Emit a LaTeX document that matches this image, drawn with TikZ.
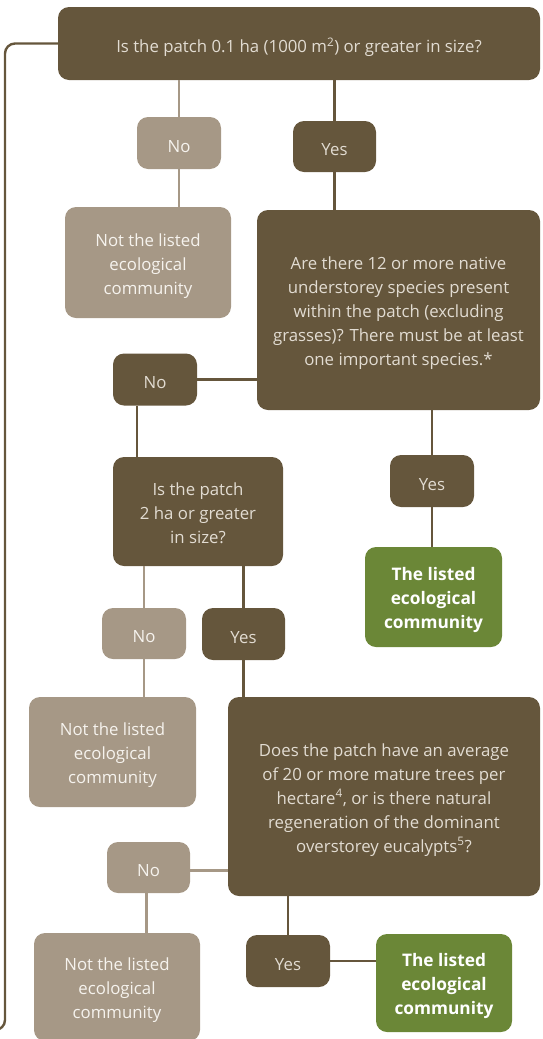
\documentclass[tikz,border=0pt]{standalone}
\usepackage{fontspec}
\setmainfont{Open Sans}
\definecolor{darkbrown}{RGB}{101,86,60}
\definecolor{taupe}{RGB}{166,152,134}
\definecolor{leafgreen}{RGB}{107,135,55}
\definecolor{darktext}{RGB}{226,220,210}
\definecolor{lighttext}{RGB}{246,243,238}
\begin{document}
\begin{tikzpicture}[x=1pt,y=-1pt,
  box/.style={rounded corners=11pt, inner sep=0pt, align=center,
    font=\fontsize{16.8}{24}\selectfont},
  oneline/.style={text height=18pt, text depth=0pt},
  threeline/.style={text height=67.5pt, text depth=4pt},
  fiveline/.style={text height=115.5pt, text depth=4pt},
  darkbox/.style={box, fill=darkbrown, text=darktext},
  lightbox/.style={box, fill=taupe, text=lighttext},
  greenbox/.style={box, fill=leafgreen, text=white, font=\fontsize{17.3}{24}\selectfont\bfseries},
  darkline/.style={draw=darkbrown, line width=2.4pt},
  lightline/.style={draw=taupe, line width=2.4pt}]
\useasboundingbox (0,0) rectangle (543,1039);
% nodes
\node[darkbox, oneline, minimum width=482pt, minimum height=73pt] (Q1) at (299,43.5) {Is the patch 0.1 ha (1000 m\textsuperscript{2}) or greater in size?};
\node[lightbox, oneline, minimum width=84pt, minimum height=52pt] (No1) at (179,143) {No};
\node[darkbox, oneline, minimum width=83pt, minimum height=51pt] (Yes1) at (334.5,146.5) {Yes};
\node[lightbox, threeline, minimum width=166pt, minimum height=111pt] (NL1) at (148,262.5) {Not the listed\\ecological\\community};
\node[darkbox, fiveline, minimum width=283pt, minimum height=200pt] (Q2) at (398.5,310) {Are there 12 or more native\\understorey species present\\within the patch (excluding\\grasses)? There must be at least\\one important species.*};
\node[darkbox, oneline, minimum width=84pt, minimum height=52pt] (No2) at (155,379.5) {No};
\node[darkbox, oneline, minimum width=84pt, minimum height=52pt] (Yes2) at (432,481) {Yes};
\node[darkbox, threeline, minimum width=170pt, minimum height=109pt] (Q3) at (198,511.5) {Is the patch\\2 ha or greater\\in size?};
\node[greenbox, threeline, minimum width=137pt, minimum height=100pt] (L1) at (433.5,597) {The listed\\ecological\\community};
\node[lightbox, oneline, minimum width=84pt, minimum height=51pt] (No3) at (144,633.5) {No};
\node[darkbox, oneline, minimum width=83pt, minimum height=52pt] (Yes3) at (243.5,634) {Yes};
\node[lightbox, threeline, minimum width=167pt, minimum height=110pt] (NL2) at (112.5,752) {Not the listed\\ecological\\community};
\node[darkbox, fiveline, minimum width=312pt, minimum height=199pt] (Q4) at (384,796.5) {Does the patch have an average\\of 20 or more mature trees per\\hectare\textsuperscript{4}, or is there natural\\regeneration of the dominant\\overstorey eucalypts\textsuperscript{5}?};
\node[lightbox, oneline, minimum width=83pt, minimum height=51pt] (No4) at (148.5,867.5) {No};
\node[lightbox, threeline, minimum width=166pt, minimum height=108pt] (NL3) at (117,987) {Not the listed\\ecological\\community};
\node[darkbox, oneline, minimum width=84pt, minimum height=52pt] (Yes4) at (288,961) {Yes};
\node[greenbox, threeline, minimum width=136pt, minimum height=98pt] (L2) at (444,983) {The listed\\ecological\\community};
% connectors
\coordinate (lb) at (5,1030);
\draw[darkline, rounded corners=10pt] (Q1.west) -| (lb) -- ++(-8,0);
\draw[lightline] (Q1.south -| No1.north) -- (No1.north);
\draw[lightline] (No1.south) -- (No1.south |- NL1.north);
\draw[darkline] (Q1.south -| Yes1.north) -- (Yes1.north);
\draw[darkline] (Yes1.south) -- (Yes1.south |- Q2.north);
\draw[darkline] (No2.east) -- (No2.east -| Q2.west);
\draw[darkline] ([xshift=-18pt]No2.south) -- ([xshift=-18pt]No2.south |- Q3.north);
\draw[darkline] (Q2.south -| Yes2.north) -- (Yes2.north);
\draw[darkline] (Yes2.south) -- (Yes2.south |- L1.north);
\draw[lightline] (Q3.south -| No3.north) -- (No3.north);
\draw[lightline] (No3.south) -- (No3.south |- NL2.north);
\draw[darkline] (Q3.south -| Yes3.north) -- (Yes3.north);
\draw[darkline] (Yes3.south) -- (Yes3.south |- Q4.north);
\draw[lightline] ([yshift=-3pt]No4.east) -- ([yshift=-3pt]No4.east -| Q4.west);
\draw[lightline] ([xshift=-2pt]No4.south) -- ([xshift=-2pt]No4.south |- NL3.north);
\draw[darkline] (Q4.south -| Yes4.north) -- (Yes4.north);
\draw[darkline] (Yes4.east) -- (Yes4.east -| L2.west);
\end{tikzpicture}
\end{document}
